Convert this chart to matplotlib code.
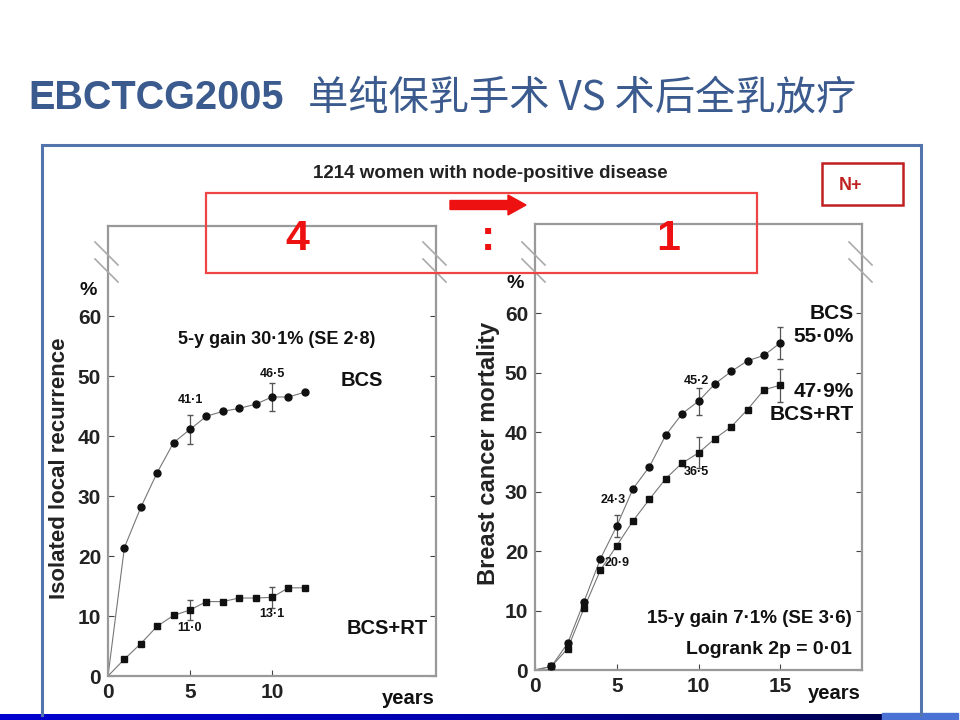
import numpy as np
import matplotlib
matplotlib.use("Agg")
import matplotlib.pyplot as plt
from matplotlib.patches import Rectangle, FancyArrow
from matplotlib.lines import Line2D

plt.rcParams['font.family'] = ['Liberation Sans', 'DejaVu Sans']

# ---- data ----
yrs_left = [0, 1, 2, 3, 4, 5, 6, 7, 8, 9, 10, 11, 12]
bcs_local = [0, 21.4, 28.1, 33.9, 38.9, 41.1, 43.3, 44.1, 44.6, 45.3, 46.5, 46.5, 47.3]
rt_local = [0, 2.8, 5.4, 8.3, 10.1, 11.0, 12.4, 12.4, 13.0, 13.0, 13.1, 14.7, 14.7]
err_yrs_left = [5, 10]
bcs_local_err = [2.4, 2.4]
rt_local_err = [1.7, 1.8]

yrs_right = [0, 1, 2, 3, 4, 5, 6, 7, 8, 9, 10, 11, 12, 13, 14, 15]
bcs_mort = [0, 0.6, 4.5, 11.5, 18.7, 24.2, 30.5, 34.2, 39.5, 43.1, 45.2, 48.1, 50.2, 52.0, 52.9, 55.0]
rt_mort = [0, 0.6, 3.6, 10.4, 16.8, 20.9, 25.1, 28.7, 32.2, 34.8, 36.5, 38.9, 40.9, 43.8, 47.1, 47.9]
err_yrs_bcs = [5, 10, 15]
bcs_mort_err = [1.8, 2.3, 2.7]
err_yrs_rt = [10, 15]
rt_mort_err = [2.6, 2.8]

yticks = [0, 10, 20, 30, 40, 50, 60]

W, H = 960, 720
fig = plt.figure(figsize=(9.6, 7.2), dpi=100)


def px(x, y):
    # pixel position (from top-left) -> figure fraction
    return x / W, 1 - y / H


# title
fig.text(*px(28, 98), "EBCTCG2005", fontsize=28.5, fontweight='bold',
         color='#3b5a8e', va='center', ha='left')
fig.text(*px(308, 98), "单纯保乳手术 VS 术后全乳放疗", fontsize=29,
         family=['Noto Sans CJK SC', 'DejaVu Sans'], color='#3b5a8e',
         va='center', ha='left')

# outer frame
frame_col = '#5374ac'
fig.add_artist(Line2D([42 / W, 42 / W], [1 - 145 / H, 1 - 715 / H], color=frame_col, lw=2.2, transform=fig.transFigure))
fig.add_artist(Line2D([921 / W, 921 / W], [1 - 145 / H, 1 - 715 / H], color=frame_col, lw=2.2, transform=fig.transFigure))
fig.add_artist(Line2D([42 / W, 921 / W], [1 - 145 / H, 1 - 145 / H], color=frame_col, lw=2.2, transform=fig.transFigure))

# bottom bar with gradient
bar = fig.add_axes([0, 0, 882 / W, 6 / H])
bar.imshow(np.linspace(0, 1, 256)[None, :], aspect='auto',
           cmap=matplotlib.colors.LinearSegmentedColormap.from_list('b', ['#0000d0', '#0000b0', '#000050']),
           extent=[0, 1, 0, 1])
bar.axis('off')
fig.add_artist(Rectangle((882 / W, 0), 76 / W, 7 / H, color='#4a72d4', transform=fig.transFigure))

fig.text(*px(490, 173), "1214 women with node-positive disease", fontsize=13.5,
         fontweight='bold', color='#222222', ha='center', va='center')

# N+ box
fig.add_artist(Rectangle(px(822, 205), 81 / W, 42 / H, fill=False, ec='#c02020', lw=1.8,
                         transform=fig.transFigure))
fig.text(*px(851, 186), "N+", fontsize=13, fontweight='bold', color='#c02020',
         ha='center', va='center')

spine_col = '#999999'
txt = '#111111'


def make_axes(rect):
    ax = fig.add_axes(rect)
    ax.set_xlim(0, 20)
    ax.set_ylim(0, 75)
    for s in ax.spines.values():
        s.set_color(spine_col)
        s.set_linewidth(1.6)
    ax.tick_params(direction='in', length=4, color='#444444', labelsize=15,
                   right=True, pad=5)
    ax.set_yticks(yticks)
    for lab in ax.get_yticklabels() + ax.get_xticklabels():
        lab.set_fontweight('bold')
        lab.set_color('#222222')
    return ax


def breaks(xpix, ypix):
    for dy in (0, 17):
        fig.add_artist(Line2D([(xpix - 13) / W, (xpix + 10) / W],
                              [1 - (ypix - 20 + dy) / H, 1 - (ypix + 3 + dy) / H],
                              color='#aaaaaa', lw=1.2, transform=fig.transFigure))


def curve(ax, x, y, marker):
    ax.plot(x, y, color='#777777', lw=0.8, zorder=2)
    ax.plot(x[1:], y[1:], ls='none', marker=marker, ms=5, color='#111111', zorder=3)


def lab(ax, x, y, s, size, ha='center', bold=True):
    ax.text(x, y, s, fontsize=size, ha=ha, va='center', color=txt,
            fontweight='bold' if bold else 'normal', clip_on=False)


mk = dict(fmt='none', ecolor='#555555', elinewidth=0.9, capsize=2.5, zorder=2)

# ---- left panel ----
ax1 = make_axes([108 / W, 44 / H, 328 / W, 450 / H])
ax1.set_xticks([0, 5, 10])
curve(ax1, yrs_left, bcs_local, 'o')
curve(ax1, yrs_left, rt_local, 's')
ax1.errorbar(err_yrs_left, [bcs_local[i] for i in err_yrs_left], yerr=bcs_local_err, **mk)
ax1.errorbar(err_yrs_left, [rt_local[i] for i in err_yrs_left], yerr=rt_local_err, **mk)
lab(ax1, 10.3, 56, "5-y gain 30·1% (SE 2·8)", 13)
lab(ax1, 15.5, 49.3, "BCS", 14.5)
lab(ax1, 17.0, 8.0, "BCS+RT", 14.5)
lab(ax1, 5.0, 46.0, "41·1", 9)
lab(ax1, 10.0, 50.3, "46·5", 9)
lab(ax1, 5.0, 8.0, "11·0", 9)
lab(ax1, 10.0, 10.3, "13·1", 9)
lab(ax1, -1.2, 64.3, "%", 14)
lab(ax1, 18.3, -3.7, "years", 14.5)
fig.text(*px(60, 468), "Isolated local recurrence", fontsize=16, fontweight='bold',
         rotation=90, ha='center', va='center', color='#222222')
breaks(108, 262)
breaks(436, 262)

# ---- right panel ----
ax2 = make_axes([535 / W, 50 / H, 327 / W, 446 / H])
ax2.set_xticks([0, 5, 10, 15])
curve(ax2, yrs_right, bcs_mort, 'o')
curve(ax2, yrs_right, rt_mort, 's')
ax2.errorbar(err_yrs_bcs, [bcs_mort[i] for i in err_yrs_bcs], yerr=bcs_mort_err, **mk)
ax2.errorbar(err_yrs_rt, [rt_mort[i] for i in err_yrs_rt], yerr=rt_mort_err, **mk)
lab(ax2, 19.5, 60.0, "BCS", 15, ha='right')
lab(ax2, 19.5, 56.1, "55·0%", 15, ha='right')
lab(ax2, 19.5, 46.9, "47·9%", 15, ha='right')
lab(ax2, 19.5, 42.9, "BCS+RT", 15, ha='right')
lab(ax2, 9.9, 48.6, "45·2", 9)
lab(ax2, 4.8, 28.6, "24·3", 9)
lab(ax2, 5.0, 18.0, "20·9", 9)
lab(ax2, 9.9, 33.3, "36·5", 9)
lab(ax2, 19.4, 8.7, "15-y gain 7·1% (SE 3·6)", 13.5, ha='right')
lab(ax2, 19.4, 3.4, "Logrank 2p = 0·01", 14, ha='right')
lab(ax2, -1.2, 65, "%", 14)
lab(ax2, 18.3, -3.9, "years", 14.5)
fig.text(*px(488, 453), "Breast cancer mortality", fontsize=17, fontweight='bold',
         rotation=90, ha='center', va='center', color='#222222')
breaks(535, 262)
breaks(862, 262)

# red ratio box with arrow
fig.add_artist(Rectangle(px(206, 273), 551 / W, 80 / H, fill=False, ec='#ee4444', lw=1.6,
                         transform=fig.transFigure, zorder=5))
fig.add_artist(FancyArrow(4.5, 7.2 - 2.05, 0.58, 0, width=0.09, head_width=0.2,
                          head_length=0.18, length_includes_head=False, color='#ee1111',
                          transform=fig.dpi_scale_trans, zorder=6))
for xx, s in [(297, "4"), (488, ":"), (668, "1")]:
    fig.text(*px(xx, 239), s, fontsize=31, fontweight='bold', color='#ee1111',
             ha='center', va='center', zorder=6)

fig.savefig("out.png", dpi=100)
